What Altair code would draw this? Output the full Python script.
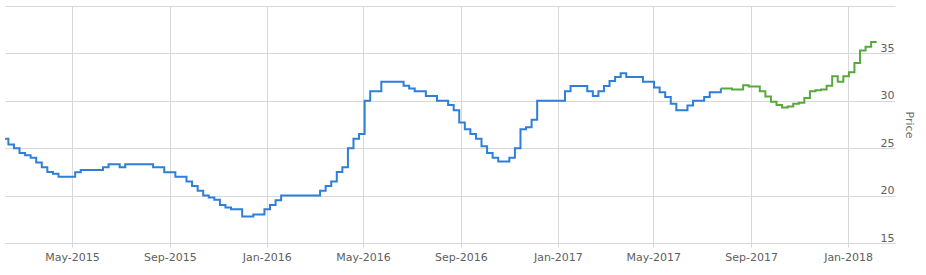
import altair as alt
import pandas as pd

# Weekly closing price, one value per week starting 2015-02-03
first_week = "2015-02-03"
prices = [
    26.0, 25.4, 25.0, 24.5, 24.25, 24.0, 23.5, 23.0, 22.5, 22.3, 22.0,
    22.0, 22.0, 22.45, 22.7, 22.7, 22.7, 22.7, 23.0, 23.3, 23.3,
    23.0, 23.3, 23.3, 23.3, 23.3, 23.3, 23.0, 23.0, 22.45, 22.45,
    22.0, 22.0, 21.5, 21.0, 20.5, 20.0, 19.8, 19.55, 19.0, 18.75,
    18.55, 18.55, 17.8, 17.8, 18.0, 18.0, 18.55, 19.0, 19.5, 20.0,
    20.0, 20.0, 20.0, 20.0, 20.0, 20.0, 20.5, 21.0, 21.5, 22.5,
    23.0, 25.0, 26.0, 26.5, 30.0, 31.0, 31.0, 32.0, 32.0, 32.0,
    32.0, 31.6, 31.3, 31.0, 31.0, 30.5, 30.5, 30.0, 30.0, 29.55,
    29.0, 27.7, 27.0, 26.5, 26.0, 25.2, 24.5, 24.0, 23.6, 23.6,
    24.0, 25.0, 27.0, 27.2, 28.0, 30.0, 30.0, 30.0, 30.0, 30.0,
    31.0, 31.55, 31.55, 31.55, 31.0, 30.5, 31.0, 31.55, 32.1, 32.5,
    32.9, 32.5, 32.5, 32.5, 32.0, 32.0, 31.4, 30.9, 30.4, 29.7,
    29.0, 29.0, 29.5, 30.0, 30.0, 30.4, 30.9, 30.9,
    31.3, 31.3, 31.2, 31.2, 31.65, 31.5, 31.5, 31.0, 30.45, 29.9,
    29.55, 29.3, 29.4, 29.7, 29.8, 30.3, 31.0, 31.1, 31.2, 31.6,
    32.6, 32.0, 32.6, 33.0, 34.0, 35.3, 35.7, 36.2, 36.2,
]
# Index of the first week drawn as the later (green) segment
split_at = 129
segments = ["Actual", "Recent"]
segment_colors = ["#2f7ed8", "#5aa83c"]
tick_months = [(2015, 5), (2015, 9), (2016, 1), (2016, 5), (2016, 9),
               (2017, 1), (2017, 5), (2017, 9), (2018, 1)]
y_ticks = [15, 20, 25, 30, 35, 40]

weeks = pd.date_range(first_week, periods=len(prices), freq="7D").strftime("%Y-%m-%d")
rows = []
for i, (d, p) in enumerate(zip(weeks, prices)):
    if i <= split_at:
        rows.append({"date": d, "price": p, "segment": segments[0]})
    if i >= split_at:
        rows.append({"date": d, "price": p, "segment": segments[1]})
df = pd.DataFrame(rows)

font = "DejaVu Sans"
grid = "#d8d8d8"

x_axis = alt.Axis(
    values=[alt.DateTime(year=y, month=m, date=1, utc=True) for y, m in tick_months],
    format="%b-%Y",
    title=None,
    grid=True,
    gridColor=grid,
    domain=True,
    domainColor=grid,
    ticks=True,
    tickColor=grid,
    tickSize=4,
    labelPadding=4,
    labelFont=font,
    labelFontSize=11,
    labelColor="#606060",
    labelFlush=False,
)

y_axis = alt.Axis(
    orient="right",
    values=y_ticks,
    labelExpr="datum.value == 40 ? '' : datum.label",
    grid=True,
    gridColor=grid,
    domain=False,
    ticks=False,
    tickSize=0,
    labelAlign="right",
    labelBaseline="alphabetic",
    labelPadding=-1,
    labelOffset=-2,
    labelFont=font,
    labelFontSize=11,
    labelColor="#606060",
    title="Price",
    titleFont=font,
    titleFontSize=11,
    titleFontWeight="normal",
    titleColor="#707070",
    titleAngle=90,
    titleAlign="center",
    titleBaseline="middle",
    titleX=13,
    titleY=118.5,
)

chart = (
    alt.Chart(df)
    .mark_line(interpolate="step-after", strokeWidth=2, clip=True)
    .encode(
        x=alt.X(
            "date:T",
            scale=alt.Scale(
                type="utc",
                domain=[
                    alt.DateTime(year=2015, month=2, date=5, hours=18, utc=True),
                    alt.DateTime(year=2018, month=3, date=1, utc=True),
                ],
            ),
            axis=x_axis,
        ),
        y=alt.Y(
            "price:Q",
            scale=alt.Scale(domain=[15, 40], nice=False, zero=False),
            axis=y_axis,
        ),
        color=alt.Color(
            "segment:N",
            scale=alt.Scale(domain=segments, range=segment_colors),
            legend=None,
        ),
    )
    .properties(
        width=890,
        height=237,
        autosize=alt.AutoSizeParams(type="none"),
        padding={"left": 5, "top": 6, "right": 31, "bottom": 32},
        background="white",
    )
    .configure_view(stroke=None)
)

chart.save("out.html", embed_options={"renderer": "svg", "actions": False})
